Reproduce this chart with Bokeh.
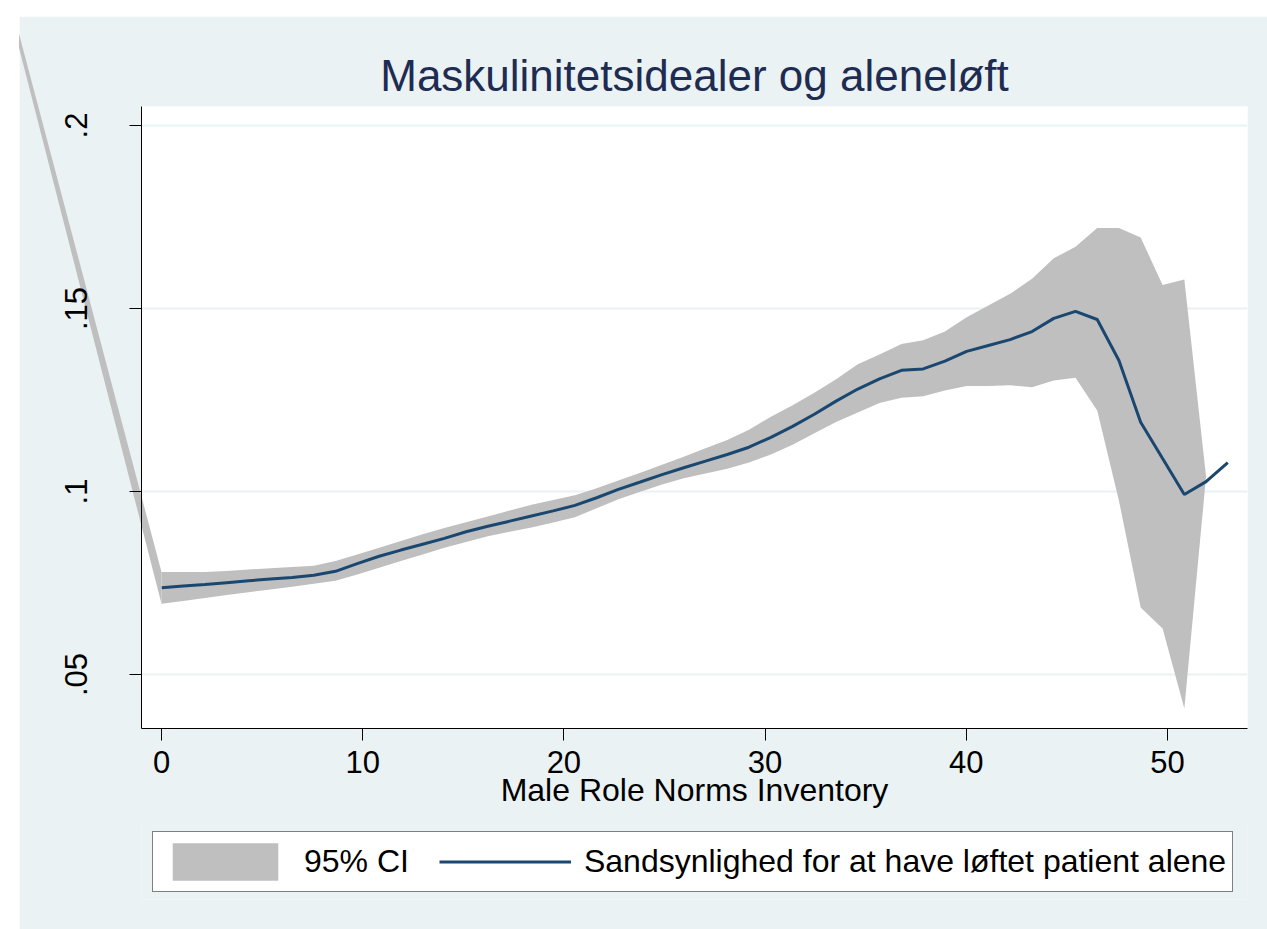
import numpy as np
from bokeh.plotting import figure
from bokeh.layouts import column
from bokeh.models import Range1d, FixedTicker, Legend, LegendItem
from bokeh.embed import file_html
from bokeh.resources import INLINE

# ---------------- data ----------------
TITLE = "Maskulinitetsidealer og aleneløft"
X_LABEL = "Male Role Norms Inventory"
CI_LABEL = "95% CI"
LINE_LABEL = "Sandsynlighed for at have løftet patient alene"

mrni = [0.00, 1.08, 2.16, 3.24, 4.33, 5.41, 6.49, 7.57, 8.65, 9.73,
        10.82, 11.90, 12.98, 14.06, 15.14, 16.22, 17.31, 18.39, 19.47, 20.55,
        21.63, 22.71, 23.80, 24.88, 25.96, 27.04, 28.12, 29.20, 30.29, 31.37,
        32.45, 33.53, 34.61, 35.69, 36.78, 37.86, 38.94, 40.02, 41.10, 42.18,
        43.27, 44.35, 45.43, 46.51, 47.59, 48.67, 49.76, 50.84, 51.92, 53.00]

prob = [0.0737, 0.0742, 0.0746, 0.0751, 0.0756, 0.0761, 0.0765, 0.0771, 0.0782, 0.0803,
        0.0823, 0.0840, 0.0856, 0.0872, 0.0890, 0.0905, 0.0919, 0.0933, 0.0947, 0.0962,
        0.0983, 0.1006, 0.1026, 0.1046, 0.1065, 0.1083, 0.1101, 0.1121, 0.1148, 0.1178,
        0.1211, 0.1247, 0.1280, 0.1308, 0.1331, 0.1335, 0.1356, 0.1383, 0.1399, 0.1415,
        0.1437, 0.1473, 0.1492, 0.1470, 0.1358, 0.1189, 0.1090, 0.0992, 0.1027, 0.1079]

ci_upper = [0.0780, 0.0780, 0.0780, 0.0783, 0.0787, 0.0790, 0.0794, 0.0797, 0.0810, 0.0828,
            0.0846, 0.0865, 0.0883, 0.0900, 0.0916, 0.0932, 0.0948, 0.0964, 0.0977, 0.0990,
            0.1009, 0.1030, 0.1051, 0.1073, 0.1095, 0.1118, 0.1141, 0.1169, 0.1204, 0.1236,
            0.1270, 0.1307, 0.1348, 0.1374, 0.1403, 0.1413, 0.1437, 0.1476, 0.1508, 0.1540,
            0.1581, 0.1637, 0.1669, 0.1720, 0.1720, 0.1694, 0.1564, 0.1579, 0.1041, None]

ci_lower = [0.0693, 0.0701, 0.0709, 0.0717, 0.0725, 0.0732, 0.0740, 0.0748, 0.0756, 0.0773,
            0.0792, 0.0810, 0.0828, 0.0846, 0.0862, 0.0878, 0.0890, 0.0902, 0.0915, 0.0930,
            0.0954, 0.0979, 0.0999, 0.1019, 0.1036, 0.1049, 0.1062, 0.1079, 0.1101, 0.1128,
            0.1159, 0.1190, 0.1216, 0.1242, 0.1256, 0.1260, 0.1276, 0.1288, 0.1288, 0.1290,
            0.1285, 0.1303, 0.1311, 0.1221, 0.0975, 0.0683, 0.0626, 0.0407, 0.1041, None]

# stray vertex of the CI polygon (drawn off the plot region in the original)
stray_x = -12.76
stray_y = 0.343

x_ticks = [0, 10, 20, 30, 40, 50]
y_ticks = [0.05, 0.1, 0.15, 0.2]
y_tick_labels = [".05", ".1", ".15", ".2"]

# ---------------- styles ----------------
BG = "#EAF2F3"
BAND = "#BFBFBF"
NAVY = "#1A476F"
TITLE_COLOR = "#1E2C52"
FONT = "Liberation Sans"

p = figure(width=1248, height=809,
           x_range=Range1d(-0.994, 53.98), y_range=Range1d(0.03525, 0.20519),
           output_backend="svg", toolbar_location=None,
           min_border_left=122, min_border_right=20,
           min_border_top=90, min_border_bottom=97)
p.margin = (16, 0, 0, 19)
p.border_fill_color = BG
p.background_fill_color = "white"
p.outline_line_color = None

# title
p.title.text = TITLE
p.title.align = "center"
p.title.text_font = FONT
p.title.text_font_size = "44px"
p.title.text_font_style = "normal"
p.title.text_color = TITLE_COLOR
p.title.standoff = 13

# band
xa = np.array(mrni, dtype=float)
up = np.array([np.nan if v is None else v for v in ci_upper], dtype=float)
lo = np.array([np.nan if v is None else v for v in ci_lower], dtype=float)
ok = np.isfinite(up) & np.isfinite(lo)
bx = np.concatenate([xa[ok], xa[ok][::-1]])
by = np.concatenate([up[ok], lo[ok][::-1]])
p.patch(bx, by, fill_color=BAND, line_color=None)

# stray part of the polygon (extends outside the plot region, under the axes)
p.patch([stray_x, mrni[0], mrni[0]], [stray_y, ci_upper[0], ci_lower[0]],
        fill_color=BAND, line_color=None, level="guide")

p.line(mrni, prob, line_color=NAVY, line_width=3)

# axes
for ax in (p.xaxis, p.yaxis):
    ax.axis_line_color = "black"
    ax.axis_line_width = 1
    ax.major_tick_line_color = "black"
    ax.major_tick_out = 12
    ax.major_tick_in = 0
    ax.minor_tick_line_color = None
    ax.major_label_text_font = FONT
    ax.major_label_text_font_size = "31px"
    ax.major_label_text_color = "black"

p.xaxis.ticker = FixedTicker(ticks=x_ticks)
p.xaxis.major_label_standoff = 10
p.xaxis.axis_label = X_LABEL
p.xaxis.axis_label_text_font = FONT
p.xaxis.axis_label_text_font_size = "32px"
p.xaxis.axis_label_text_font_style = "normal"
p.xaxis.axis_label_text_color = "black"
p.xaxis.axis_label_standoff = -4

p.yaxis.ticker = FixedTicker(ticks=y_ticks)
p.yaxis.major_label_overrides = {t: s for t, s in zip(y_ticks, y_tick_labels)}
p.yaxis.major_label_orientation = "vertical"
p.yaxis.major_label_standoff = 42

p.xgrid.grid_line_color = None
p.ygrid.ticker = FixedTicker(ticks=y_ticks)
p.ygrid.grid_line_color = BG
p.ygrid.grid_line_width = 2

# ---------------- legend strip ----------------
pl = figure(width=1248, height=105,
            x_range=Range1d(1000, 1001), y_range=Range1d(1000, 1001),
            output_backend="svg", toolbar_location=None,
            x_axis_type=None, y_axis_type=None,
            min_border_left=122, min_border_right=20,
            min_border_top=0, min_border_bottom=30)
pl.margin = (-1, 0, 0, 19)
pl.border_fill_color = BG
pl.background_fill_color = BG
pl.outline_line_color = None
pl.grid.visible = False

# legend keys use the same series, out of this strip's view
band_key = pl.patch(bx, by, fill_color=BAND, line_color=None)
line_key = pl.line(mrni, prob, line_color=NAVY, line_width=3)

legend = Legend(items=[LegendItem(label=CI_LABEL, renderers=[band_key]),
                       LegendItem(label=LINE_LABEL, renderers=[line_key])],
                orientation="horizontal", location=(11, 7),
                glyph_width=132, glyph_height=47, label_standoff=13, spacing=30,
                padding=6, margin=0,
                label_text_font=FONT, label_text_font_size="32px", label_text_color="black",
                border_line_color="black", border_line_width=1,
                background_fill_color="white", background_fill_alpha=1.0)
pl.add_layout(legend, "center")

layout = column(p, pl, spacing=0)
open("out.html", "w").write(file_html(layout, INLINE))
